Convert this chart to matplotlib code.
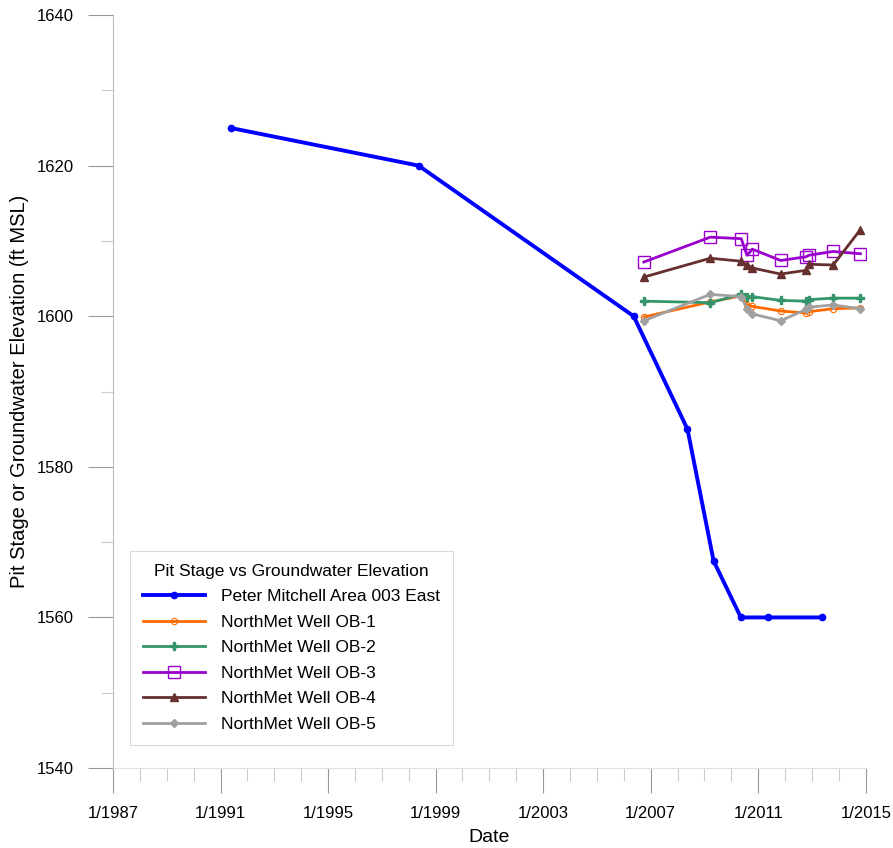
import matplotlib.pyplot as plt
import matplotlib.dates as mdates
import numpy as np
import pandas as pd

plt.rcParams['font.family'] = ['Liberation Sans', 'DejaVu Sans']

# Pit stage, Peter Mitchell Area 003 East
pit_dates = ["1991-05-20", "1998-05-15", "2006-05-15", "2008-05-15",
             "2009-05-05", "2010-05-10", "2011-05-10", "2013-05-10"]
pit_elev = [1625.0, 1620.0, 1600.0, 1585.0, 1567.5, 1560.0, 1560.0, 1560.0]

# NorthMet wells
well_dates = ["2006-10-01", "2009-03-20", "2010-05-15", "2010-08-01",
              "2010-10-15", "2011-11-01", "2012-10-15", "2012-11-20",
              "2013-10-15", "2014-10-20"]
ob1 = [1599.9, 1601.9, 1602.7, 1601.5, 1601.3, 1600.7, 1600.4, 1600.6, 1601.0, 1601.1]
ob2 = [1602.0, 1601.8, 1602.9, 1602.6, 1602.6, 1602.1, 1602.0, 1602.2, 1602.4, 1602.4]
ob3 = [1607.2, 1610.5, 1610.3, 1608.1, 1608.9, 1607.4, 1607.9, 1608.1, 1608.6, 1608.3]
ob4 = [1605.2, 1607.7, 1607.3, 1606.8, 1606.4, 1605.6, 1606.1, 1606.9, 1606.8, 1611.5]
ob5 = [1599.4, 1602.9, 1602.6, 1601.0, 1600.3, 1599.4, 1600.9, 1601.2, 1601.5, 1601.0]

major_years = list(range(1987, 2016, 4))
minor_years = list(range(1987, 2016))

wells = [
    ("NorthMet Well OB-1", ob1, "#ff6a00", dict(marker="o", ms=4.5, mfc="none", mew=0.8)),
    ("NorthMet Well OB-2", ob2, "#35956a", dict(marker="P", ms=6)),
    ("NorthMet Well OB-3", ob3, "#9a00cc", dict(marker="s", ms=8, mfc="none", mew=1.0)),
    ("NorthMet Well OB-4", ob4, "#66302f", dict(marker="^", ms=6)),
    ("NorthMet Well OB-5", ob5, "#a0a0a0", dict(marker="D", ms=4.5)),
]

fig = plt.figure(figsize=(8.93, 8.48), dpi=100)
ax = fig.add_axes([0.1265, 0.0943, 0.843, 0.888])

ax.plot(pd.to_datetime(pit_dates), pit_elev, color="#0000ff", lw=2.8,
        marker="o", ms=4.5, label="Peter Mitchell Area 003 East", zorder=5)

wd = pd.to_datetime(well_dates)
for name, vals, col, mk in wells:
    ax.plot(wd, vals, color=col, lw=2.0, label=name, **mk)

ax.set_xlim(pd.Timestamp("1987-01-01"), pd.Timestamp("2015-01-01"))
ax.set_ylim(1540, 1640)

ax.set_xticks([pd.Timestamp(f"{y}-01-01") for y in major_years])
ax.set_xticks([pd.Timestamp(f"{y}-01-01") for y in minor_years], minor=True)
ax.xaxis.set_major_formatter(mdates.DateFormatter("1/%Y"))
ax.set_yticks(np.arange(1540, 1641, 20))
ax.set_yticks(np.arange(1550, 1640, 20), minor=True)

for s in ["top", "right"]:
    ax.spines[s].set_visible(False)
ax.spines["left"].set_color("#bbbbbb")
ax.spines["bottom"].set_color("#e0e0e0")

ax.tick_params(axis="both", which="major", length=18, width=0.8, color="#999999",
               labelsize=12, pad=9)
ax.tick_params(axis="both", which="minor", length=9, width=0.8, color="#cccccc")
ax.tick_params(axis="y", which="major", pad=10)

ax.set_xlabel("Date", fontsize=14, labelpad=6)
ax.set_ylabel("Pit Stage or Groundwater Elevation (ft MSL)", fontsize=14.5, labelpad=6)

leg = ax.legend(title="Pit Stage vs Groundwater Elevation", loc="lower left",
                bbox_to_anchor=(0.0226, 0.0305), borderaxespad=0,
                fontsize=12.5, title_fontsize=12.5,
                frameon=True, fancybox=False, edgecolor="#d0d0d0",
                handlelength=3.6, handletextpad=0.9, labelspacing=0.6, borderpad=0.75)
leg.get_frame().set_linewidth(0.8)

fig.savefig("out.png", dpi=100)
